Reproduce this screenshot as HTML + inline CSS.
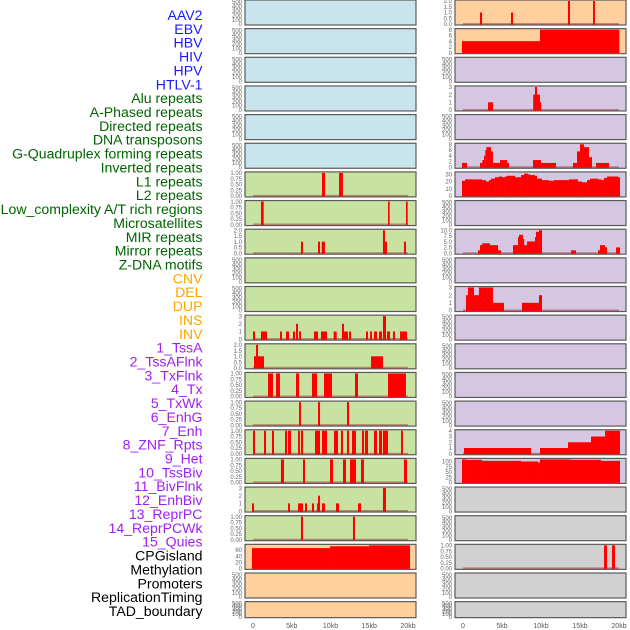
<!DOCTYPE html>
<html><head><meta charset="utf-8"><style>
body{margin:0;background:#fff;}
svg{display:block;font-family:"Liberation Sans",sans-serif;}
</style></head><body>
<svg id="chart" width="630" height="630" viewBox="0 0 630 630" xmlns="http://www.w3.org/2000/svg"></svg>
<script>
const trackNames = ["AAV2","EBV","HBV","HIV","HPV","HTLV-1","Alu repeats","A-Phased repeats","Directed repeats","DNA transposons","G-Quadruplex forming repeats","Inverted repeats","L1 repeats","L2 repeats","Low_complexity A/T rich regions","Microsatellites","MIR repeats","Mirror repeats","Z-DNA motifs","CNV","DEL","DUP","INS","INV","1_TssA","2_TssAFlnk","3_TxFlnk","4_Tx","5_TxWk","6_EnhG","7_Enh","8_ZNF_Rpts","9_Het","10_TssBiv","11_BivFlnk","12_EnhBiv","13_ReprPC","14_ReprPCWk","15_Quies","CPGisland","Methylation","Promoters","ReplicationTiming","TAD_boundary"];
const labelColors = ["#1a1aff","#006400","#ffa500","#a020f0","#000000"];
const labelGroup = [0,0,0,0,0,0,1,1,1,1,1,1,1,1,1,1,1,1,1,2,2,2,2,2,3,3,3,3,3,3,3,3,3,3,3,3,3,3,3,4,4,4,4,4];
const xTicksKb = [0,5,10,15,20];
const xTickLabels = ["0","5kb","10kb","15kb","20kb"];

// segments per track: [startKb, endKb, value]
const segAlu = [[8.9,9.3,1],[11.1,11.6,1]];
const segAPhased = [[1.03,1.38,1],[17.42,17.63,1],[19.74,19.96,1]];
const segDirected = [[6.19,6.45,1],[8.39,8.65,1],[8.86,9.29,1],[16.77,17.03,2],[17.03,17.29,1],[19.48,19.74,1]];
const segInverted = [[0,0.26,1],[1.03,1.81,1],[3.48,3.74,1],[4.26,4.65,1],[5.16,5.42,1],[5.55,5.81,2],[5.94,6.19,1],[7.87,8.39,1],[8.77,9.55,1],[10.41,10.8,1],[11.48,11.74,2],[11.74,12.26,1],[12.39,12.65,1],[14.58,14.84,1],[15.1,15.35,1],[15.61,16.0,1],[16.26,16.65,1],[16.77,17.16,3],[17.29,17.68,1],[18.06,18.32,1],[18.97,19.87,1]];
const segL1 = [[0.13,0.39,1],[0.39,0.65,2],[0.65,1.42,1],[15.23,16.77,1]];
const segL2 = [[1.94,2.58,1],[2.97,3.48,1],[5.55,5.94,1],[7.61,8.26,1],[9.16,9.68,1],[9.68,10.19,1],[13.16,13.55,1],[17.42,19.74,1]];
const segLowComplex = [[5.94,6.19,1],[8.39,8.65,1],[12.13,12.39,1]];
const segMicrosat = [[0,0.26,1],[1.42,1.68,1],[2.45,2.71,1],[4.13,4.39,1],[4.52,4.9,1],[5.81,6.06,1],[6.19,6.45,1],[8.0,8.65,1],[8.9,9.55,1],[10.45,10.97,1],[11.35,11.61,1],[12.13,12.39,1],[12.77,13.29,1],[14.06,14.32,1],[14.45,14.84,1],[15.61,16.0,1],[16.26,16.65,1],[16.77,17.42,1],[19.1,19.35,1]];
const segMIR = [[3.61,4.0,1],[6.45,6.71,1],[9.94,10.32,1],[11.61,12.0,1],[12.52,13.29,1],[13.94,14.32,1],[19.48,19.87,1]];
const segMirror = [[-0.13,0.13,1],[4.52,4.77,1],[5.81,6.45,1],[6.71,6.97,1],[7.61,7.87,1],[8.26,8.52,1],[8.39,8.65,2],[8.9,9.29,1],[10.71,11.1,1],[13.55,13.94,1],[16.77,17.16,3]];
const segZDNA = [[6.19,6.45,1],[12.9,13.16,1]];
const segCNV = [[-0.13,9.94,66],[9.94,14.97,72],[14.97,20.26,75]];
const segINS = [[2.18,2.44,1],[6.15,6.41,1],[13.46,13.72,2],[16.67,16.92,2]];
const segINV = [[-0.13,9.87,4],[9.87,20.04,8]];
const segTssAFlnk = [[3.21,3.85,1],[9.0,9.23,2],[9.23,9.49,3],[9.49,9.87,2],[9.87,10.0,1]];
const segTx = [[-0.13,0.51,1.5],[2.18,2.48,1.5],[2.48,2.69,2.5],[2.69,2.86,4],[2.86,2.99,6],[2.99,3.59,7],[3.59,3.85,5.5],[3.85,4.74,1.5],[4.74,5.64,2.5],[5.64,5.9,1.5],[8.97,10.0,2.5],[10.0,11.92,1.5],[14.1,14.62,1.5],[14.62,15.0,5.5],[15.0,15.51,8],[15.51,16.15,7],[16.15,16.54,3.5],[17.05,18.72,1.5]];
const segTxWk = [[-0.13,0.26,21],[0.26,2.44,23],[2.44,2.95,22],[2.95,3.33,20],[3.33,3.59,22],[3.59,4.1,24],[4.1,4.62,26],[4.62,5.0,27],[5.0,5.38,26],[5.38,5.64,27],[5.64,6.67,28],[6.67,7.44,26],[7.44,7.82,29],[7.82,8.33,31],[8.33,8.59,30],[8.59,9.23,29],[9.23,9.49,28],[9.49,10.13,24],[10.13,11.03,22],[11.03,11.67,21],[11.67,13.59,22],[13.59,14.74,23],[14.74,15.26,20],[15.26,15.9,19],[15.9,16.28,22],[16.28,17.31,24],[17.31,17.69,23],[17.69,18.08,22],[18.08,18.46,25],[18.46,19.87,27],[19.87,20.13,26]];
const segEnh = [[1.92,2.18,1.25],[2.18,2.44,3.5],[2.44,3.46,4.3],[3.46,4.49,3.5],[4.49,4.87,1.25],[6.41,7.05,3.5],[7.05,7.18,7],[7.18,7.69,8],[7.69,7.82,6.2],[7.82,8.21,3.5],[8.21,9.23,5.1],[9.23,9.36,7],[9.36,9.74,9.3],[9.74,10.13,10],[13.85,14.49,1.25],[17.31,17.56,1.25],[17.56,18.21,3.5],[18.21,18.46,2.6],[19.62,20.13,2.5]];
const segHet = [[0.38,0.64,2],[0.64,1.41,3],[1.41,2.05,2],[2.05,3.85,3],[3.85,5.26,1],[7.56,9.74,1],[9.74,10.13,2]];
const segReprPCWk = [[0.13,8.72,1],[9.87,13.46,1],[13.46,16.41,2],[16.41,18.21,3],[18.21,20.13,4]];
const segQuies = [[-0.13,0.38,110],[0.38,2.44,108],[2.44,7.44,103],[7.44,9.62,100],[9.62,9.87,95],[9.87,13.72,110],[13.72,17.69,108],[17.69,20.13,103]];
const segPromoters = [[18.08,18.46,1],[19.1,19.49,1]];

const E = null;
const trackSegs = [E,E,E,E,E,E,segAlu,segAPhased,segDirected,E,E,segInverted,segL1,segL2,segLowComplex,segMicrosat,segMIR,segMirror,segZDNA,segCNV,E,E,segINS,segINV,E,segTssAFlnk,E,segTx,segTxWk,E,segEnh,E,segHet,E,E,E,E,segReprPCWk,segQuies,E,E,segPromoters,E,E];
const tickSets = [
  {max:520, ticks:[0,100,200,300,400,500], labels:["0","100","200","300","400","500"]},
  {max:1, ticks:[0,0.25,0.5,0.75,1], labels:["0.00","0.25","0.50","0.75","1.00"]},
  {max:2, ticks:[0,0.5,1,1.5,2], labels:["0.0","0.5","1.0","1.5","2.0"]},
  {max:3, ticks:[0,1,2,3], labels:["0","1","2","3"]},
  {max:4, ticks:[0,1,2,3,4], labels:["0","1","2","3","4"]},
  {max:8, ticks:[0,2,4,6,8], labels:["0","2","4","6","8"]},
  {max:10, ticks:[0,2.5,5,7.5,10], labels:["0.0","2.5","5.0","7.5","10.0"]},
  {max:32, ticks:[0,10,20,30], labels:["0","10","20","30"]},
  {max:75, ticks:[0,20,40,60], labels:["0","20","40","60"]},
  {max:110, ticks:[0,25,50,75,100], labels:["0","25","50","75","100"]}
];
const trackTickSet = [0,0,0,0,0,0,1,1,2,0,0,3,2,1,1,1,1,3,1,8,0,0,2,5,0,3,0,5,7,0,6,0,3,0,0,0,0,4,9,0,0,1,0,0];
const panelColors = ["#c8e4ec","#c8e2a2","#ffd09e","#d5c6e2","#d1d1d1"];
const trackBg = [0,0,0,0,0,0,1,1,1,1,1,1,1,1,1,1,1,1,1,2,2,2,2,2,3,3,3,3,3,3,3,3,3,3,3,3,3,3,3,4,4,4,4,4];

const NS = "http://www.w3.org/2000/svg";
const svg = document.getElementById('chart');
function mk(tag, attrs, parent){const e=document.createElementNS(NS,tag);for(const k in attrs)e.setAttribute(k,attrs[k]);(parent||svg).appendChild(e);return e;}

trackNames.forEach((n,i)=>{
  const t = mk('text',{x:202.5,y:15+i*13.86+5,'text-anchor':'end','font-size':'14.1',fill:labelColors[labelGroup[i]]});
  
  
  t.textContent=n;
});

const cols = [{x0:245,x1:416,k0:253,k20:408},{x0:455,x1:626,k0:463,k20:619}];
function rowTop(r){return r*28.65;}
function rowH(r){return r===21?16:25;}

for(let ti=0; ti<44; ti++){
  const c = ti<22?0:1, r = ti%22, col = cols[c];
  const top = rowTop(r), h = rowH(r), bot = top+h;
  const xs = kb => col.k0 + (col.k20-col.k0)*kb/20;
  const ts = tickSets[trackTickSet[ti]];
  const ys = v => (bot-1) - (h-2)*v/ts.max;
  const g = mk('g',{});
  
  
  const bg = mk('rect',{x:col.x0,y:top,width:col.x1-col.x0,height:h,fill:panelColors[trackBg[ti]],stroke:'#5a5a5a','stroke-width':1.2},g);
  
  
  const segs = trackSegs[ti];
  if(segs){
    const bl = mk('line',{x1:xs(0),x2:xs(20),y1:bot-1.2,y2:bot-1.2,stroke:'rgba(150,30,30,0.45)','stroke-width':1.6},g);
    
    
    segs.forEach(s=>{
      const x=xs(s[0]), w=Math.max(1.2,xs(s[1])-xs(s[0])), y=Math.max(top+0.6,ys(s[2]));
      const b = mk('rect',{x:x,y:y,width:w,height:(bot-1)-y+0.5,fill:'#ff0000'},g);
      
      
    });
  }
  ts.ticks.forEach((tv,k)=>{
    const tt = mk('text',{x:col.x0-3,y:ys(tv)+2.2,'text-anchor':'end','font-size':'6',fill:'#666'},g);
    
    
    tt.textContent = ts.labels[k];
  });
}
cols.forEach(col=>{
  xTicksKb.forEach((kb,i)=>{
    const t = mk('text',{x:col.k0+(col.k20-col.k0)*kb/20,y:628,'text-anchor':'middle','font-size':'7',fill:'#555'});
    
    
    t.textContent = xTickLabels[i];
  });
});
</script>
</body></html>
